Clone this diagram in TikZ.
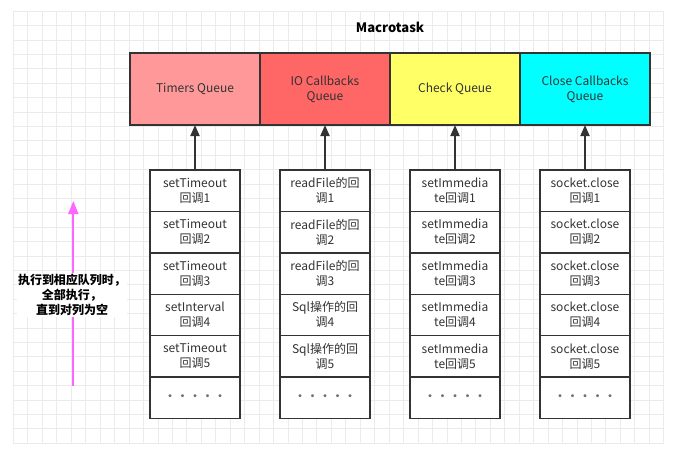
\documentclass[tikz,border=0pt]{standalone}
\usepackage{fontspec}
\setmainfont{Noto Sans CJK SC}
\usetikzlibrary{arrows.meta,positioning}

\definecolor{gridgray}{HTML}{EBEBEB}
\definecolor{edgegray}{HTML}{333333}
\definecolor{timersred}{HTML}{FF9999}
\definecolor{ioredd}{HTML}{FF6666}
\definecolor{checkyellow}{HTML}{FFFF66}
\definecolor{closecyan}{HTML}{00FFFF}
\definecolor{pinkarrow}{HTML}{FF66FF}
\definecolor{dotgray}{HTML}{6E6E6E}

\newcommand{\onedot}{\makebox[12.5pt]{•}}
\newcommand{\moredots}{{\fontsize{14}{14}\selectfont\raisebox{-5pt}{\onedot\onedot\onedot\onedot\onedot}}}

\tikzset{
	queuebox/.style={draw=edgegray, line width=1.4pt, minimum width=130pt, minimum height=72pt,
		inner sep=0pt, outer sep=0pt, align=center, text=edgegray, font=\fontsize{12}{15}\selectfont},
	cellbox/.style={draw=edgegray, line width=1.4pt, fill=white, minimum width=90pt, minimum height=41.4pt,
		inner sep=0pt, outer sep=0pt, align=center, text=edgegray, font=\fontsize{12}{15}\selectfont},
	pushline/.style={-{Triangle[width=9pt,length=11pt]}, line width=1.8pt, draw=edgegray},
}

\begin{document}
\begin{tikzpicture}[x=1pt, y=-1pt, >=Latex]
	\useasboundingbox (0,0) rectangle (673,463);
	\fill[white] (0,0) rectangle (673,463);

	% Background grid
	\foreach \i in {0,...,45}
		\draw[gridgray, line width=0.6pt] ({13.3+14.45*\i},11) -- ({13.3+14.45*\i},443);
	\foreach \j in {0,...,30}
		\draw[gridgray, line width=0.6pt] (13.3,{11+14.4*\j}) -- (663.5,{11+14.4*\j});

	% Title
	\node[font=\bfseries\fontsize{13}{15}\selectfont] (title) at (390,27) {Macrotask};

	% Queues
	\node[queuebox, fill=timersred] (tq) at (195,89) {Timers Queue};
	\node[queuebox, fill=ioredd, right=0pt of tq] (ioq) {IO Callbacks\\Queue};
	\node[queuebox, fill=checkyellow, right=0pt of ioq] (chq) {Check Queue};
	\node[queuebox, fill=closecyan, right=0pt of chq] (clq) {Close Callbacks\\Queue};

	% Timers callbacks
	\node[cellbox] (t1) at (195,190.7) {setTimeout\\回调1};
	\node[cellbox, below=0pt of t1] (t2) {setTimeout\\回调2};
	\node[cellbox, below=0pt of t2] (t3) {setTimeout\\回调3};
	\node[cellbox, below=0pt of t3] (t4) {setInterval\\回调4};
	\node[cellbox, below=0pt of t4] (t5) {setTimeout\\回调5};
	\node[cellbox, below=0pt of t5, text=dotgray] (t6) {\moredots};

	% IO callbacks
	\node[cellbox] (r1) at (325,190.7) {readFile的回\\调1};
	\node[cellbox, below=0pt of r1] (r2) {readFile的回\\调2};
	\node[cellbox, below=0pt of r2] (r3) {readFile的回\\调3};
	\node[cellbox, below=0pt of r3] (r4) {Sql操作的回\\调4};
	\node[cellbox, below=0pt of r4] (r5) {Sql操作的回\\调5};
	\node[cellbox, below=0pt of r5, text=dotgray] (r6) {\moredots};

	% Check callbacks
	\node[cellbox] (c1) at (455,190.7) {setImmedia\\te回调1};
	\foreach \n [remember=\n as \p (initially 1)] in {2,3,4,5}
		\node[cellbox, below=0pt of c\p] (c\n) {setImmedia\\te回调\n};
	\node[cellbox, below=0pt of c5, text=dotgray] (c6) {\moredots};

	% Close callbacks
	\node[cellbox] (s1) at (585,190.7) {socket.close\\回调1};
	\foreach \n [remember=\n as \p (initially 1)] in {2,3,4,5}
		\node[cellbox, below=0pt of s\p] (s\n) {socket.close\\回调\n};
	\node[cellbox, below=0pt of s5, text=dotgray] (s6) {\moredots};

	% Push into queues
	\draw[pushline] (t1) -- (tq);
	\draw[pushline] (r1) -- (ioq);
	\draw[pushline] (c1) -- (chq);
	\draw[pushline] (s1) -- (clq);

	% Execution direction
	\coordinate (runlow) at (73.3,386);
	\coordinate (runtop) at (73.3,201);
	\draw[pinkarrow, line width=1.8pt, -{Triangle[width=10pt,length=13pt]}] (runlow) -- (runtop);
	\node[fill=white, inner sep=1pt, align=center, font=\bfseries\fontsize{12}{15}\selectfont] (runnote) at (72,295)
		{执行到相应队列时，\\全部执行，\\直到对列为空};
\end{tikzpicture}
\end{document}
